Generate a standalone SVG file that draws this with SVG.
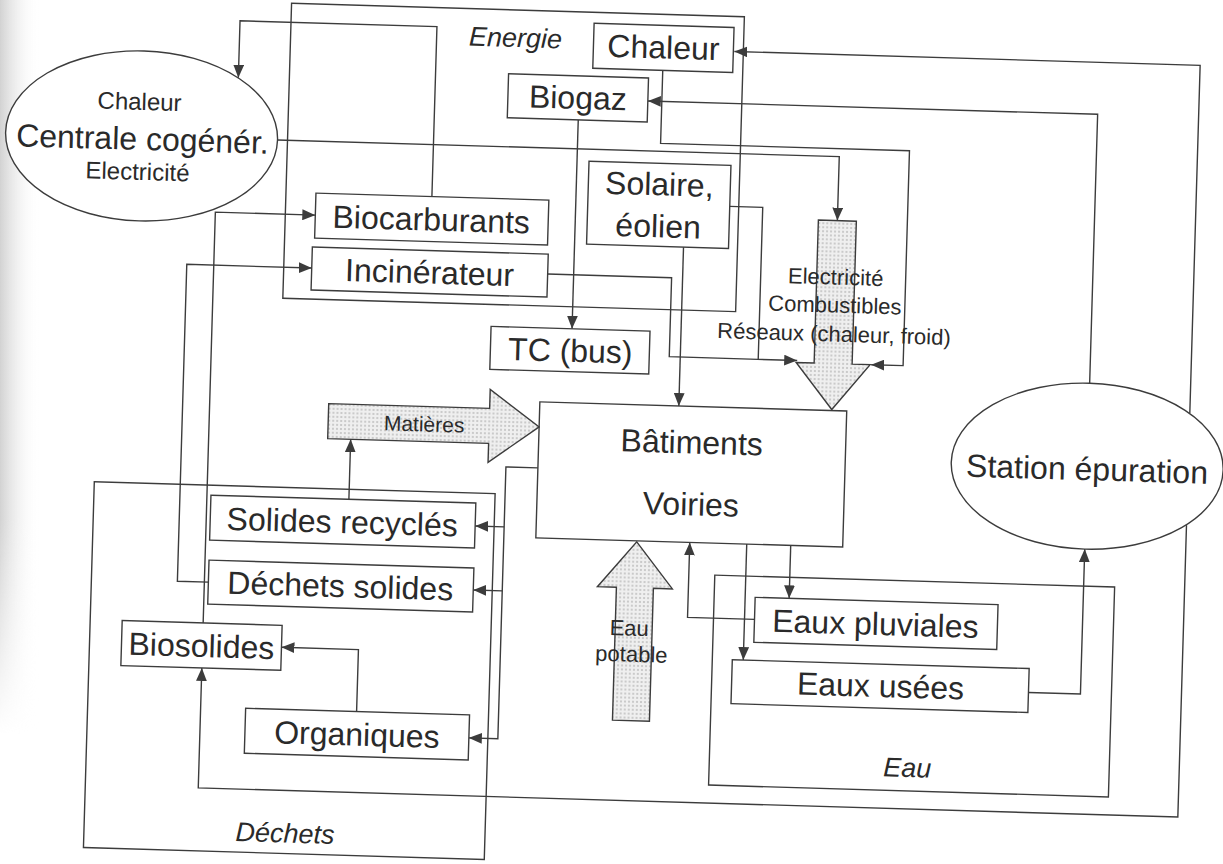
<svg xmlns="http://www.w3.org/2000/svg" width="1223" height="864" viewBox="0 0 1223 864">
<defs>
<style>
.box{fill:#fff;stroke:#3c3c3c;stroke-width:1.4}
.frame{fill:none;stroke:#3c3c3c;stroke-width:1.4}
.c{fill:none;stroke:#3c3c3c;stroke-width:1.4;marker-end:url(#ah)}
.l{fill:none;stroke:#3c3c3c;stroke-width:1.4}
.t{font-family:"Liberation Sans",Arial,sans-serif;fill:#2a2a2a;text-anchor:middle}
.big{font-size:32px}
.it{font-style:italic;font-size:27px}
.sm{font-size:22px}
.fat{fill:url(#dots);stroke:#3c3c3c;stroke-width:1.4}
</style>
<marker id="ah" viewBox="0 0 12 10" refX="12" refY="5" markerWidth="13" markerHeight="11" orient="auto" markerUnits="userSpaceOnUse"><path d="M0,0 L12,5 L0,10 z" fill="#3c3c3c"/></marker>
<pattern id="dots" width="4" height="4" patternUnits="userSpaceOnUse"><rect width="4" height="4" fill="#efefef"/><circle cx="1" cy="1" r="0.7" fill="#8a8a8a"/></pattern>
<linearGradient id="shade" x1="0" y1="0" x2="1" y2="0"><stop offset="0" stop-color="#d2d2d2"/><stop offset="1" stop-color="#ffffff" stop-opacity="0"/></linearGradient>
<linearGradient id="vf" x1="0" y1="0" x2="0" y2="1"><stop offset="0.6" stop-color="#fff"/><stop offset="0.85" stop-color="#000"/></linearGradient>
<mask id="vfade" maskUnits="userSpaceOnUse" x="0" y="0" width="60" height="864"><rect x="0" y="0" width="60" height="864" fill="url(#vf)"/></mask>
</defs>
<rect width="1223" height="864" fill="#fff"/>
<rect x="0" y="0" width="40" height="864" fill="url(#shade)" mask="url(#vfade)"/>
<g transform="rotate(1.7 611 432)">
<g id="frame-energie"><rect class="frame" x="279" y="13" width="453" height="295"/><text class="t it" x="504" y="50">Energie</text></g>
<g id="frame-dechets"><rect class="frame" x="96" y="497" width="401" height="366"/><text class="t it" x="297" y="852">Déchets</text></g>
<g id="frame-eau"><rect class="frame" x="719" y="572" width="400" height="210"/><text class="t it" x="917" y="768">Eau</text></g>

<g id="connectors">
<path class="c" d="M425,202 V32 H228 V89"/>
<path class="c" d="M269,150 H831 V214"/>
<path class="c" d="M652,69 V142 H901 V357 H869"/>
<path class="c" d="M723,203 H756 V355 H795"/>
<path class="l" d="M543,276 H667 V355 H756"/>
<path class="c" d="M678,245 V404"/>
<path class="c" d="M569,121 V330"/>
<path class="c" d="M1189,396 V48 H723"/>
<path class="c" d="M1189,508 V800 H209 V680"/>
<path class="c" d="M1088,369 V100 H638"/>
<path class="c" d="M1036,680 H1088 V535"/>
<path class="c" d="M794,540 V593"/>
<path class="c" d="M750,540 V656"/>
<path class="c" d="M760,615 H693 V540"/>
<path class="c" d="M539,470 H507 V742 H478"/>
<path class="c" d="M507,530 H478"/>
<path class="c" d="M507,594 H478"/>
<path class="c" d="M351,507 V447"/>
<path class="c" d="M213,594 H182 V277 H307"/>
<path class="c" d="M209,635 V224 H309"/>
<path class="c" d="M365,719 V657 H288"/>
</g>

<g id="centrale"><ellipse class="box" cx="133" cy="150" rx="136" ry="85"/>
<text class="t" x="130" y="124" font-size="24">Chaleur</text>
<text class="t big" x="134" y="164">Centrale cogénér.</text>
<text class="t" x="130" y="194" font-size="24">Electricité</text></g>
<g id="chaleur"><rect class="box" x="582" y="24" width="140" height="45"/><text class="t big" x="652" y="57">Chaleur</text></g>
<g id="biogaz"><rect class="box" x="498" y="77" width="140" height="44"/><text class="t big" x="568" y="110">Biogaz</text></g>
<g id="biocarburants"><rect class="box" x="309" y="202" width="233" height="45"/><text class="t big" x="425" y="236">Biocarburants</text></g>
<g id="incinerateur"><rect class="box" x="307" y="256" width="236" height="43"/><text class="t big" x="425" y="289">Incinérateur</text></g>
<g id="solaire"><rect class="box" x="581" y="162" width="142" height="83"/><text class="t big" x="652" y="194">Solaire,</text><text class="t big" x="652" y="236">éolien</text></g>
<g id="tc-bus"><rect class="box" x="488" y="330" width="159" height="43"/><text class="t big" x="568" y="363">TC (bus)</text></g>
<g id="batiments"><rect class="box" x="539" y="404" width="307" height="136"/><text class="t big" x="692" y="451">Bâtiments</text><text class="t big" x="693" y="513">Voiries</text></g>
<g id="station"><ellipse class="box" cx="1088" cy="452" rx="136" ry="83"/><text class="t big" x="1088" y="466">Station épuration</text></g>
<g id="solides-recycles"><rect class="box" x="213" y="507" width="265" height="45"/><text class="t big" x="345" y="541">Solides recyclés</text></g>
<g id="dechets-solides"><rect class="box" x="213" y="572" width="265" height="44"/><text class="t big" x="345" y="605">Déchets solides</text></g>
<g id="biosolides"><rect class="box" x="128" y="635" width="160" height="45"/><text class="t big" x="208" y="669">Biosolides</text></g>
<g id="organiques"><rect class="box" x="254" y="719" width="224" height="45"/><text class="t big" x="366" y="753">Organiques</text></g>
<g id="eaux-pluviales"><rect class="box" x="760" y="593" width="243" height="45"/><text class="t big" x="881" y="627">Eaux pluviales</text></g>
<g id="eaux-usees"><rect class="box" x="739" y="656" width="297" height="44"/><text class="t big" x="888" y="689">Eaux usées</text></g>

<g id="matieres"><polygon class="fat" points="328,412 489,412 489,393 539,429 489,466 489,447 328,447"/><text class="t" x="424" y="437" font-size="21">Matières</text></g>
<g id="eau-potable"><polygon class="fat" points="640,541 677,587 658,587 658,720 621,720 621,587 602,587"/><text class="t sm" x="635" y="635">Eau</text><text class="t sm" x="638" y="661">potable</text></g>
<g id="reseaux"><polygon class="fat" points="812,214 850,214 850,357 868,357 831,403 794,357 812,357"/><text class="t sm" x="831" y="278">Electricité</text><text class="t sm" x="831" y="306">Combustibles</text><text class="t sm" x="831" y="335">Réseaux (chaleur, froid)</text></g>
</g>
</svg>
